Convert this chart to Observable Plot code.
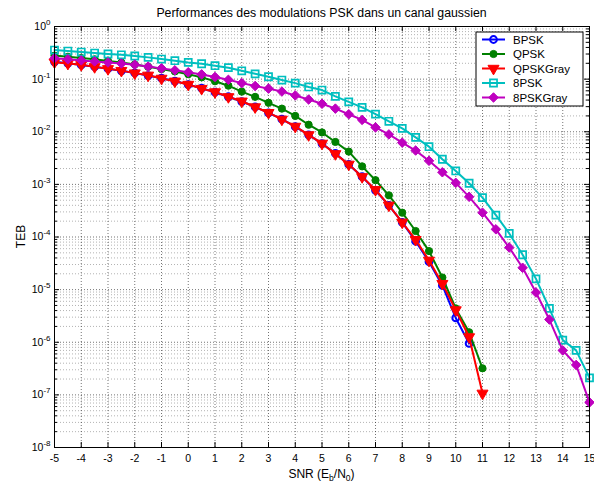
<!DOCTYPE html>
<html><head><meta charset="utf-8">
<script src="https://cdn.jsdelivr.net/npm/d3@7"></script>
<script src="https://cdn.jsdelivr.net/npm/@observablehq/plot@0.6"></script>
<style>html,body{margin:0;padding:0;background:#fff}svg{display:block}</style>
</head><body><div id="chart"></div>
<script>
// ---- data ----
const snr = [-5,-4.5,-4,-3.5,-3,-2.5,-2,-1.5,-1,-0.5,0,0.5,1,1.5,2,2.5,3,3.5,4,4.5,5,5.5,6,6.5,7,7.5,8,8.5,9,9.5,10,10.5,11,11.5,12,12.5,13,13.5,14,14.5,15];
const bpsk = [0.213,0.200,0.186,0.172,0.158,0.144,0.131,0.117,0.104,0.092,0.0786,0.0671,0.0563,0.0462,0.0375,0.0297,0.0229,0.0173,0.0125,0.00875,0.00595,0.00387,0.00239,0.00140,0.00077,0.00040,0.00019,8.3e-5,3.4e-5,1.2e-5,2.9e-6,9.5e-7];
const qpsk = [0.280,0.266,0.252,0.238,0.222,0.207,0.190,0.172,0.155,0.140,0.124,0.108,0.091,0.075,0.058,0.046,0.0355,0.0275,0.020,0.0136,0.0097,0.0064,0.0042,0.0022,0.0012,6.2e-4,2.9e-4,1.3e-4,5.4e-5,1.7e-5,4.4e-6,1.55e-6,3.2e-7];
const qpskGray = [0.210,0.198,0.187,0.171,0.157,0.145,0.130,0.118,0.103,0.091,0.079,0.066,0.057,0.046,0.038,0.0295,0.023,0.0172,0.0126,0.0087,0.0060,0.0038,0.0024,0.00139,0.00079,0.00040,0.00019,8.9e-5,3.6e-5,1.3e-5,4.1e-6,1.26e-6,1.07e-7];
const psk8 = [0.357,0.342,0.327,0.313,0.300,0.290,0.275,0.259,0.241,0.224,0.208,0.196,0.180,0.165,0.144,0.126,0.111,0.096,0.084,0.071,0.062,0.047,0.037,0.029,0.0216,0.0158,0.0116,0.0078,0.0052,0.0030,0.0018,0.00105,5.6e-4,2.6e-4,1.17e-4,4.6e-5,1.6e-5,4.4e-6,1.1e-6,7e-7,2.1e-7];
const psk8Gray = [0.250,0.238,0.227,0.217,0.207,0.198,0.188,0.173,0.160,0.147,0.135,0.123,0.110,0.097,0.084,0.074,0.066,0.058,0.049,0.041,0.034,0.0275,0.0215,0.0168,0.0121,0.0089,0.0062,0.0044,0.0028,0.0017,0.00107,5.8e-4,2.9e-4,1.4e-4,6.3e-5,2.6e-5,8.8e-6,2.7e-6,7e-7,3.7e-7,7.2e-8];
const seriesNames = ["BPSK","QPSK","QPSKGray","8PSK","8PSKGray"];
const seriesValues = [bpsk, qpsk, qpskGray, psk8, psk8Gray];
const seriesColors = ["#0000ff","#008000","#ff0000","#00bfbf","#bf00bf"];
const xTicks = [-5,-4,-3,-2,-1,0,1,2,3,4,5,6,7,8,9,10,11,12,13,14,15];
const yTicks = [1e-8,1e-7,1e-6,1e-5,1e-4,1e-3,1e-2,1e-1,1];
const yExponents = [-8,-7,-6,-5,-4,-3,-2,-1,0];
const titleText = "Performances des modulations PSK dans un canal gaussien";
const yLabel = "TEB";

// ---- layout ----
const W = 594, H = 484, mL = 54, mR = 5, mT = 26, mB = 37;
const pw = W - mL - mR, ph = H - mT - mB;
const font = "'Liberation Sans', Arial, sans-serif";

const yMinor = [];
yTicks.slice(0, -1).forEach(d => { for (let k = 2; k <= 9; k++) yMinor.push(d * k); });

const rows = seriesNames.map((name, i) => seriesValues[i].map((v, j) => ({series: name, snr: snr[j], ber: v})));

const markerStyles = [
  {symbol: "circle", r: 3.4, fill: "none", strokeWidth: 2},
  {symbol: "circle", r: 3.6, fill: seriesColors[1], strokeWidth: 1},
  {symbol: "triangle", r: 4.1, fill: seriesColors[2], strokeWidth: 1, rotate: 180},
  {symbol: "square", r: 4, fill: "none", strokeWidth: 1.7},
  {symbol: "diamond2", r: 4.3, fill: seriesColors[4], strokeWidth: 1}
];

const seriesMarks = [];
rows.forEach((data, i) => {
  seriesMarks.push(Plot.line(data, {x: "snr", y: "ber", stroke: seriesColors[i], strokeWidth: 2}));
  const m = markerStyles[i];
  seriesMarks.push(Plot.dot(data, {x: "snr", y: "ber", stroke: seriesColors[i], ...m}));
});

const gridStyle = {stroke: "#000", strokeDasharray: "1,2", strokeWidth: 1};

const plot = Plot.plot({
  width: W, height: H,
  marginLeft: mL, marginRight: mR, marginTop: mT, marginBottom: mB,
  style: {fontFamily: font, fontSize: "10.5px", background: "white", color: "black", overflow: "visible"},
  x: {type: "linear", domain: [-5, 15]},
  y: {type: "log", domain: [1e-8, 1]},
  marks: [
    Plot.gridY(yMinor, {...gridStyle, strokeOpacity: 0.3}),
    Plot.gridY(yTicks, {...gridStyle, strokeOpacity: 0.55}),
    Plot.gridX(xTicks, {...gridStyle, strokeOpacity: 0.55}),
    Plot.ruleY(yTicks, {y: d => d, stroke: "#000", insetRight: pw - 5}),
    Plot.ruleY(yTicks, {y: d => d, stroke: "#000", insetLeft: pw - 5}),
    Plot.ruleY(yMinor, {y: d => d, stroke: "#000", insetRight: pw - 3}),
    Plot.ruleY(yMinor, {y: d => d, stroke: "#000", insetLeft: pw - 3}),
    Plot.ruleX(xTicks, {x: d => d, stroke: "#000", insetTop: ph - 5}),
    Plot.ruleX(xTicks, {x: d => d, stroke: "#000", insetBottom: ph - 5}),
    Plot.axisX(xTicks, {tickSize: 0, tickPadding: 7, label: null, tickFormat: d => String(d)}),
    Plot.axisY(yTicks, {tickSize: 0, tickPadding: 4, label: null, tickFormat: d => "10^" + yExponents[yTicks.indexOf(d)]}),
    ...seriesMarks,
    Plot.frame({stroke: "#000"})
  ]
});

document.getElementById("chart").appendChild(plot);
const svg = d3.select(plot);

// superscript exponents on y tick labels
svg.selectAll('g[aria-label="y-axis tick label"] text').each(function() {
  const t = this.textContent;
  const [b, e] = t.split("^");
  const s = d3.select(this);
  s.text(null);
  s.append("tspan").text(b);
  s.append("tspan").attr("dy", "-5").attr("font-size", "8px").text(e);
});

// title
svg.append("text").attr("x", mL + pw / 2).attr("y", 17).attr("text-anchor", "middle")
  .attr("font-family", font).attr("font-size", "12.3px").attr("fill", "#000").text(titleText);

// x label with subscripts
const xl = svg.append("text").attr("x", mL + pw / 2).attr("y", 478).attr("text-anchor", "middle")
  .attr("font-family", font).attr("font-size", "12px").attr("fill", "#000");
xl.append("tspan").text("SNR (E");
xl.append("tspan").attr("dy", "3").attr("font-size", "8.5px").text("b");
xl.append("tspan").attr("dy", "-3").text("/N");
xl.append("tspan").attr("dy", "3").attr("font-size", "8.5px").text("0");
xl.append("tspan").attr("dy", "-3").text(")");

// y label
svg.append("text").attr("transform", `translate(25,${mT + ph / 2}) rotate(-90)`).attr("text-anchor", "middle")
  .attr("font-family", font).attr("font-size", "12px").attr("fill", "#000").text(yLabel);

// legend
const lg = svg.append("g").attr("transform", "translate(476,32)");
lg.append("rect").attr("width", 107).attr("height", 74).attr("fill", "#fff").attr("stroke", "#000");
const symMap = {circle: d3.symbolCircle, triangle: d3.symbolTriangle, square: d3.symbolSquare, diamond2: d3.symbolDiamond2};
seriesNames.forEach((name, i) => {
  const cy = 7.5 + i * 14.5;
  const m = markerStyles[i];
  lg.append("line").attr("x1", 6).attr("x2", 29).attr("y1", cy).attr("y2", cy)
    .attr("stroke", seriesColors[i]).attr("stroke-width", 2);
  lg.append("path").attr("d", d3.symbol(symMap[m.symbol], Math.PI * m.r * m.r)())
    .attr("transform", `translate(17.5,${cy}) rotate(${m.rotate || 0})`)
    .attr("fill", m.fill).attr("stroke", seriesColors[i]).attr("stroke-width", m.strokeWidth);
  lg.append("text").attr("x", 37).attr("y", cy).attr("dy", "0.35em").attr("text-anchor", "start")
    .attr("font-family", font).attr("font-size", "11.5px").attr("fill", "#000").text(name);
});
</script>
</body></html>
